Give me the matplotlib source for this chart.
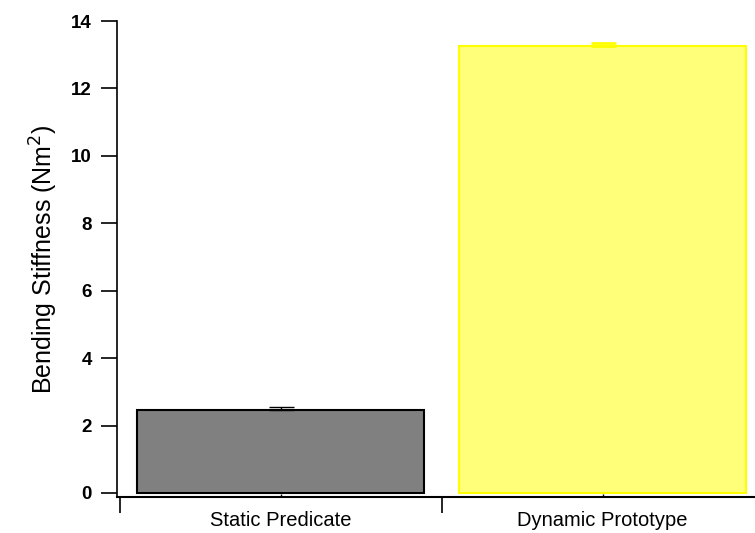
import matplotlib
matplotlib.use("Agg")
import matplotlib.pyplot as plt
import numpy as np

# values
categories = ["Static Predicate", "Dynamic Prototype"]
stiffness = [2.47, 13.27]
stiffness_err = [0.09, 0.09]

plt.rcParams['font.family'] = ['Liberation Sans', 'DejaVu Sans']

fig = plt.figure(figsize=(7.55, 5.33), dpi=100)
# axes box in pixel terms: left spine at x=117, bottom line at y=497, top at y=21
ax = fig.add_axes([117 / 755, 1 - 497 / 533, (755 - 117) / 755, (497 - 21) / 533])

x = np.arange(len(categories))
ax.bar(x[0], stiffness[0], width=0.89, color='#808080', edgecolor='black', linewidth=1.5)
ax.errorbar(x[0], stiffness[0], yerr=[[0], [stiffness_err[0]]], fmt='none',
            ecolor='black', elinewidth=1, capsize=9, capthick=1)
ax.bar(x[1], stiffness[1], width=0.89, color='#ffff7a', edgecolor='#ffff00', linewidth=1.5)
ax.errorbar(x[1], stiffness[1], yerr=[[0], [stiffness_err[1]]], fmt='none',
            ecolor='#ffff00', elinewidth=1, capsize=9, capthick=2)

ax.spines['top'].set_visible(False)
ax.spines['right'].set_visible(False)
ax.spines['left'].set_bounds(-0.12, 14)
ax.spines['left'].set_linewidth(1.2)
ax.spines['bottom'].set_linewidth(1.5)

ax.set_yticks(np.arange(0, 15, 2))
ax.set_yticklabels([str(v) for v in range(0, 15, 2)], fontsize=13.5, fontweight='bold')
ax.tick_params(axis='y', direction='out', length=11.5, width=1.2, pad=6.5)

# category boundary ticks below, labels centred under bars
ax.set_xticks([-0.5, 0.5, 1.5])
ax.set_xticklabels(['', '', ''])
ax.tick_params(axis='x', which='major', direction='out', length=11.5, width=1.2, pad=0)
ax.set_xticks(x, minor=True)
ax.set_xticklabels(categories, minor=True, fontsize=14.5)
ax.tick_params(axis='x', which='minor', direction='in', length=2, width=1, pad=10)

# limits last, set_xticks would widen them otherwise
ax.set_xlim(-0.508, 1.473)
ax.set_ylim(-0.12, 14)

ax.set_ylabel('Bending Stiffness (Nm$^2$)', fontsize=18, labelpad=8)

fig.savefig('out.png', dpi=100)
